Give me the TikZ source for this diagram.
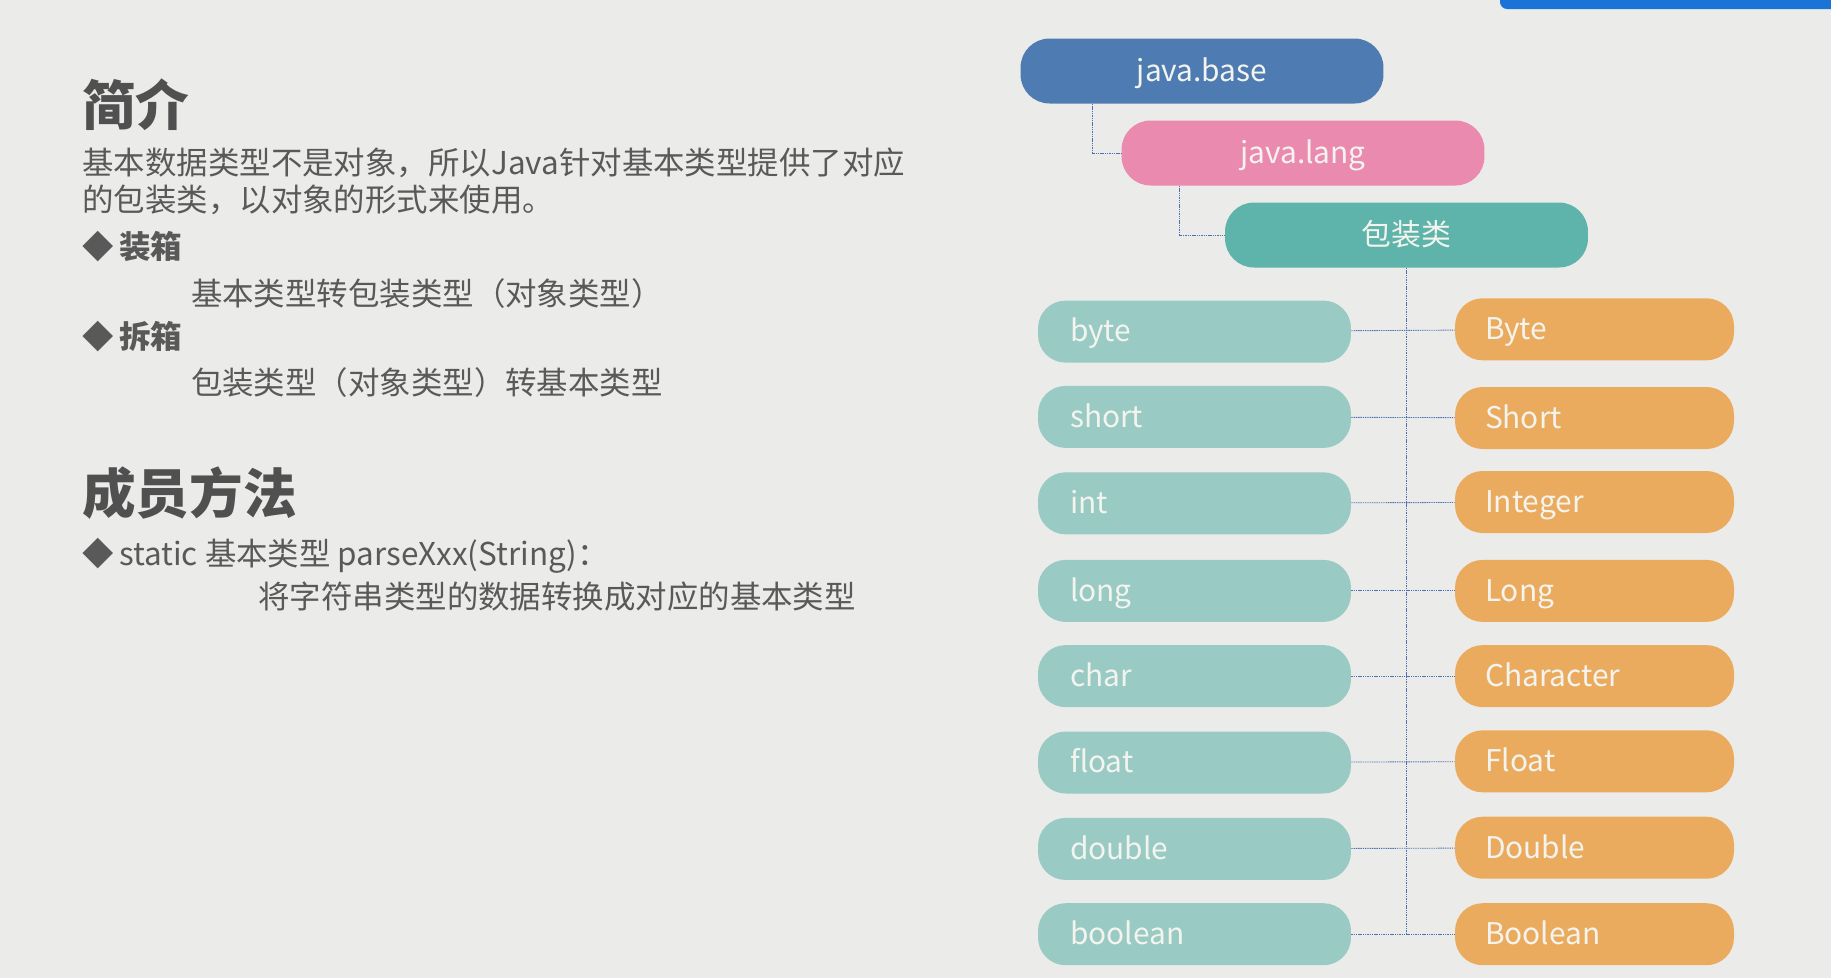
\documentclass[tikz,border=0pt]{standalone}
\usepackage{fontspec}
\setmainfont{Noto Sans CJK SC}
\definecolor{bg}{HTML}{EBECE9}
\definecolor{topbar}{HTML}{1A73D6}
\definecolor{basefill}{HTML}{4E7CB2}
\definecolor{langfill}{HTML}{EB8AAF}
\definecolor{wrapfill}{HTML}{5EB4AA}
\definecolor{primfill}{HTML}{99CAC4}
\definecolor{clsfill}{HTML}{EBAB5E}
\definecolor{boxtext}{HTML}{F4F4EF}
\definecolor{bodytext}{HTML}{595959}
\definecolor{linkcol}{HTML}{4A72B0}
\tikzset{
  pill/.style={rectangle, inner sep=0pt, text=boxtext, font=\fontsize{17}{17}\selectfont,
    text height=17pt, text depth=5.2pt},
  topbox/.style={pill, minimum width=7.26cm, minimum height=1.3cm, rounded corners=0.58cm},
  prim/.style={pill, fill=primfill, minimum height=1.24cm, rounded corners=0.55cm,
    text width=4.98cm, inner xsep=0.64cm, align=left},
  cls/.style={pill, fill=clsfill, minimum height=1.24cm, rounded corners=0.55cm,
    text width=4.38cm, inner xsep=0.6cm, align=left},
  link/.style={linkcol, line width=0.5pt, dash pattern=on 0.8pt off 0.5pt},
  head/.style={anchor=west, inner sep=0pt, text=bodytext!90!black, font=\fontsize{30.5}{30.5}\selectfont\bfseries,
    text height=26.8pt, text depth=3.7pt},
  body/.style={anchor=west, inner sep=0pt, text=bodytext, font=\fontsize{17.9}{17.9}\selectfont,
    text height=15.75pt, text depth=2.15pt}
}
\begin{document}
\begin{tikzpicture}[x=0.02cm, y=-0.02cm]
		\useasboundingbox (0,0) rectangle (1831,978);
		\clip (0,0) rectangle (1831,978);
		\fill[bg] (0,0) rectangle (1831,978);
		\fill[topbar, rounded corners=0.14cm] (1500,-20) rectangle (1860,9);

		% left column: text
		\node[head] (intro) at (82,105) {简介};
		\node[body] (t1) at (82,162.5) {基本数据类型不是对象，所以Java针对基本类型提供了对应};
		\node[body] (t2) at (82,200) {的包装类，以对象的形式来使用。};
		\node[body] (box) at (82,246.7) {◆\hspace{3pt}\textbf{装箱}};
		\node[body] (box1) at (190.7,294) {基本类型转包装类型（对象类型）};
		\node[body] (unbox) at (82,337) {◆\hspace{3pt}\textbf{拆箱}};
		\node[body] (unbox1) at (190.7,383) {包装类型（对象类型）转基本类型};

		\node[head] (member) at (82,493) {成员方法};
		\node[body] (m1) at (82,554) {◆\hspace{3pt}static 基本类型 parseXxx(String)：};
		\node[body] (m2) at (258,597) {将字符串类型的数据转换成对应的基本类型};

		% right column: tree
		\node[topbox, fill=basefill] (jbase) at (1202,71) {java.base};
		\node[topbox, fill=langfill] (jlang) at (1303,153) {java.lang};
		\node[topbox, fill=wrapfill] (wrap) at (1406.5,235) {包装类};

		\node[prim] (l1) at (1194.5,331.6) {byte};
		\node[prim] (l2) at (1194.5,416.9) {short};
		\node[prim] (l3) at (1194.5,503.3) {int};
		\node[prim] (l4) at (1194.5,590.9) {long};
		\node[prim] (l5) at (1194.5,676.1) {char};
		\node[prim] (l6) at (1194.5,762.5) {float};
		\node[prim] (l7) at (1194.5,848.9) {double};
		\node[prim] (l8) at (1194.5,934.2) {boolean};

		\node[cls] (r1) at (1594.5,329.3) {Byte};
		\node[cls] (r2) at (1594.5,418) {Short};
		\node[cls] (r3) at (1594.5,502) {Integer};
		\node[cls] (r4) at (1594.5,590.9) {Long};
		\node[cls] (r5) at (1594.5,676.1) {Character};
		\node[cls] (r6) at (1594.5,761.3) {Float};
		\node[cls] (r7) at (1594.5,847.7) {Double};
		\node[cls] (r8) at (1594.5,934.2) {Boolean};

		\draw[link] ([xshift=1.44cm]jbase.south west) |- (jlang.west);
		\draw[link] ([xshift=1.17cm]jlang.south west) |- (wrap.west);
		\draw[link] (wrap.south) -- (wrap.south |- l8.east);
		\draw[link] (l1) to (r1); \draw[link] (l2) to (r2);
		\draw[link] (l3) to (r3); \draw[link] (l4) to (r4);
		\draw[link] (l5) to (r5); \draw[link] (l6) to (r6);
		\draw[link] (l7) to (r7); \draw[link] (l8) to (r8);
\end{tikzpicture}
\end{document}
